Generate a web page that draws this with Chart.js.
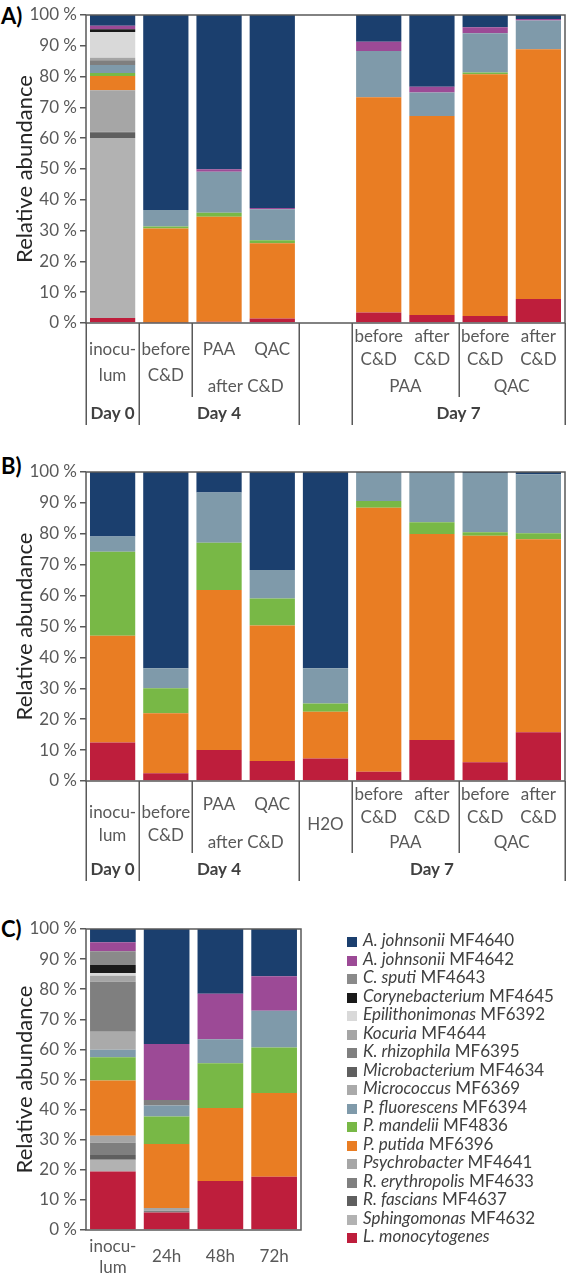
<!DOCTYPE html>
<html>
<head>
<meta charset="utf-8">
<script src="https://cdn.jsdelivr.net/npm/chart.js@4.4.0/dist/chart.umd.min.js"></script>
<style>
  body { margin: 0; background: #fff; width: 567px; height: 1277px; position: relative; overflow: hidden; font-family: Lato, sans-serif; }
  canvas { position: absolute; left: 0; }
  .tag { position: absolute; left: 1px; font: bold 22px Lato, sans-serif; line-height: 24px; color: #000; }
  #legend { position: absolute; left: 347px; top: 931px; font: 17px Lato, sans-serif; color: #404040; }
  #legend div { height: 18.5px; line-height: 18.5px; white-space: nowrap; }
  #legend .box { display: inline-block; width: 10px; height: 10px; margin-right: 6px; vertical-align: -1px; }
</style>
</head>
<body>
<div class="tag" style="top:4px">A)</div>
<div class="tag" style="top:454px">B)</div>
<div class="tag" style="top:917px">C)</div>
<canvas id="chartA" width="567" height="437" style="top:0px"></canvas>
<canvas id="chartB" width="567" height="450" style="top:437px"></canvas>
<canvas id="chartC" width="567" height="390" style="top:887px"></canvas>
<div id="legend"></div>
<script>
// species, in legend order (top of the stack first)
const speciesNames = ['A. johnsonii', 'A. johnsonii', 'C. sputi', 'Corynebacterium', 'Epilithonimonas', 'Kocuria',
  'K. rhizophila', 'Microbacterium', 'Micrococcus', 'P. fluorescens', 'P. mandelii', 'P. putida',
  'Psychrobacter', 'R. erythropolis', 'R. fascians', 'Sphingomonas', 'L. monocytogenes'];
const strainIds = ['MF4640', 'MF4642', 'MF4643', 'MF4645', 'MF6392', 'MF4644', 'MF6395', 'MF4634', 'MF6369',
  'MF6394', 'MF4836', 'MF6396', 'MF4641', 'MF4633', 'MF4637', 'MF4632', ''];
const speciesColors = ['#1b3f6e', '#9c4a96', '#8a8a8a', '#1a1a1a', '#d9d9d9', '#a5a5a5', '#7f7f7f', '#5f5f5f',
  '#aaaaaa', '#7f9aaa', '#78b846', '#e97d23', '#a6a6a6', '#7f7f7f', '#5f5f5f', '#b2b2b2', '#be1e3c'];

// panel A: categories
const catsA = ['inoculum', 'Day 4 before C&D', 'Day 4 PAA', 'Day 4 QAC', 'Day 7 H2O',
  'Day 7 PAA before', 'Day 7 PAA after', 'Day 7 QAC before', 'Day 7 QAC after'];
const labelsA = [['inocu-', 'lum'], ['before', 'C&D'], ['PAA'], ['QAC'], [],
  ['before', 'C&D'], ['after', 'C&D'], ['before', 'C&D'], ['after', 'C&D']];
const groupsA = [['after C&D', 2, 3], ['PAA', 5, 6], ['QAC', 7, 8]];
const daysA = [['Day 0', 0, 0], ['Day 4', 1, 3], ['Day 7', 5, 8]];
// relative abundance (%), one row per species in legend order
const valuesA = [
  [3.5, 63.3, 50.1, 62.7, null, 8.7, 23.3, 4.0, 1.3],
  [1.1, 0, 0.8, 0.4, null, 3.0, 1.9, 1.9, 0.5],
  [0, 0, 0, 0, null, 0, 0, 0, 0],
  [0.9, 0, 0, 0, null, 0, 0, 0, 0],
  [8.4, 0, 0, 0, null, 0, 0, 0, 0],
  [0.8, 0, 0, 0, null, 0, 0, 0, 0],
  [1.5, 0, 0, 0, null, 0, 0, 0, 0],
  [0, 0, 0, 0, null, 0, 0, 0, 0],
  [0, 0, 0, 0, null, 0, 0, 0, 0],
  [2.6, 5.4, 13.3, 10.0, null, 15.0, 7.6, 12.8, 9.3],
  [1.0, 0.6, 1.3, 1.0, null, 0, 0, 0.5, 0],
  [4.6, 30.5, 34.1, 24.4, null, 69.9, 64.6, 78.5, 81.1],
  [13.5, 0, 0, 0, null, 0, 0, 0, 0],
  [0.4, 0, 0, 0, null, 0, 0, 0, 0],
  [1.6, 0, 0, 0, null, 0, 0, 0, 0],
  [58.5, 0, 0, 0, null, 0, 0, 0, 0],
  [1.6, 0.2, 0.4, 1.5, null, 3.4, 2.6, 2.3, 7.8]
];

// panel B
const catsB = catsA;
const labelsB = [['inocu-', 'lum'], ['before', 'C&D'], ['PAA'], ['QAC'], ['H2O'],
  ['before', 'C&D'], ['after', 'C&D'], ['before', 'C&D'], ['after', 'C&D']];
const groupsB = groupsA;
const daysB = [['Day 0', 0, 0], ['Day 4', 1, 3], ['Day 7', 4, 8]];
const valuesB = [
  [20.9, 63.5, 6.6, 31.7, 63.5, 0, 0, 0.3, 0.7],
  [0, 0, 0, 0, 0, 0, 0, 0, 0],
  [0, 0, 0, 0, 0, 0, 0, 0, 0],
  [0, 0, 0, 0, 0, 0, 0, 0, 0],
  [0, 0, 0, 0, 0, 0, 0, 0, 0],
  [0, 0, 0, 0, 0, 0, 0, 0, 0],
  [0, 0, 0, 0, 0, 0, 0, 0, 0],
  [0, 0, 0, 0, 0, 0, 0, 0, 0],
  [0, 0, 0, 0, 0, 0, 0, 0, 0],
  [4.9, 6.5, 16.3, 9.2, 11.4, 9.4, 16.3, 19.2, 19.1],
  [27.2, 8.1, 15.3, 8.8, 2.7, 2.2, 3.8, 1.1, 2.0],
  [34.5, 19.4, 51.8, 43.8, 15.1, 85.4, 66.6, 73.3, 62.4],
  [0, 0, 0, 0, 0, 0, 0, 0, 0],
  [0, 0, 0, 0, 0, 0, 0, 0, 0],
  [0, 0, 0, 0, 0, 0, 0, 0, 0],
  [0, 0, 0, 0, 0, 0, 0, 0, 0],
  [12.5, 2.5, 10.0, 6.5, 7.3, 3.0, 13.3, 6.1, 15.8]
];

// panel C
const catsC = ['inoculum', '24h', '48h', '72h'];
const labelsC = [['inocu-', 'lum'], ['24h'], ['48h'], ['72h']];
const valuesC = [
  [4.4, 38.2, 21.5, 15.7],
  [3.0, 18.6, 15.1, 11.5],
  [4.6, 0, 0, 0],
  [2.6, 0, 0, 0],
  [0.9, 0, 0, 0],
  [2.0, 0, 0, 0],
  [16.6, 1.8, 0, 0],
  [0, 0, 0, 0],
  [6.0, 0, 0, 0],
  [2.5, 3.7, 8.0, 12.2],
  [7.7, 9.1, 14.9, 15.1],
  [18.4, 21.3, 24.2, 27.8],
  [2.3, 0.9, 0, 0],
  [4.1, 0.6, 0, 0],
  [1.6, 0, 0, 0],
  [3.9, 0, 0, 0],
  [19.4, 5.8, 16.3, 17.7]
];

const AXIS = '#595959';
const FONT = 'Lato, sans-serif';

// frame round the plot area + x label tiers under it
function tierPlugin(t) {
  return {
    id: 'tiers',
    afterDatasetsDraw(chart) {
      const { ctx, chartArea: a } = chart;
      ctx.save();
      ctx.strokeStyle = AXIS;
      ctx.lineWidth = 1.5;
      ctx.strokeRect(a.left, a.top, a.right - a.left, a.bottom - a.top);
      ctx.restore();
    },
    afterDraw(chart) {
      const { ctx, chartArea: a } = chart;
      const xs = chart.scales.x;
      ctx.save();
      ctx.strokeStyle = AXIS;
      ctx.lineWidth = 1.5;
      (t.seps || []).forEach(([b, deep]) => {
        const x = Math.round(xs.getPixelForValue(b - 0.5)) + 0.25;
        ctx.beginPath();
        ctx.moveTo(x, a.bottom);
        ctx.lineTo(x, a.bottom + (deep ? t.sepFull : t.sepGroup));
        ctx.stroke();
      });
      ctx.textAlign = 'center';
      ctx.textBaseline = 'middle';
      ctx.fillStyle = AXIS;
      ctx.font = '17px ' + FONT;
      t.labels.forEach((lines, i) => {
        lines.forEach((s, k) => ctx.fillText(s, xs.getPixelForValue(i), a.bottom + t.lines[i][k]));
      });
      (t.groups || []).forEach(([s, from, to]) => {
        const x = (xs.getPixelForValue(from) + xs.getPixelForValue(to)) / 2;
        ctx.fillText(s, x, a.bottom + t.group);
      });
      ctx.font = 'bold 17px ' + FONT;
      ctx.fillStyle = '#404040';
      (t.days || []).forEach(([s, from, to]) => {
        const x = (xs.getPixelForValue(from - 0.5) + xs.getPixelForValue(to + 0.5)) / 2;
        ctx.fillText(s, x, a.bottom + t.day);
      });
      ctx.restore();
    }
  };
}

function buildChart(id, cats, values, pad, xHeight, tiers) {
  const datasets = speciesNames.map((n, i) => ({
    label: (n + ' ' + strainIds[i]).trim(),
    data: values[i],
    backgroundColor: speciesColors[i],
    borderWidth: 0,
    barPercentage: 0.85,
    categoryPercentage: 1
  })).reverse();

  return new Chart(document.getElementById(id), {
    type: 'bar',
    data: { labels: cats, datasets },
    options: {
      responsive: false,
      animation: false,
      devicePixelRatio: 1,
      layout: { padding: { top: pad.top, right: pad.right, left: 0, bottom: 0 } },
      plugins: { legend: { display: false }, tooltip: { enabled: false } },
      scales: {
        x: {
          stacked: true,
          grid: { display: false },
          border: { display: false },
          ticks: { display: false },
          afterFit: (s) => { s.height = xHeight; }
        },
        y: {
          stacked: true,
          min: 0,
          max: 100,
          ticks: {
            stepSize: 10,
            callback: (v) => v + ' %',
            font: { family: FONT, size: 17 },
            color: AXIS,
            padding: 3
          },
          grid: { drawOnChartArea: false, tickLength: 6, color: AXIS, lineWidth: 1.5 },
          border: { display: false },
          title: {
            display: true,
            text: 'Relative abundance',
            font: { family: FONT, size: 22 },
            color: '#262626',
            padding: { top: 12, bottom: 0 }
          },
          afterFit: (s) => { s.width = 86; }
        }
      }
    },
    plugins: [tierPlugin(tiers)]
  });
}

buildChart('chartA', catsA, valuesA, { top: 15, right: 2 }, 114, {
  labels: labelsA, groups: groupsA, days: daysA,
  lines: [[27, 53], [27, 53], [27], [27], [], [14, 37], [14, 37], [14, 37], [14, 37]],
  group: 64, day: 91, sepGroup: 74, sepFull: 102,
  seps: [[0, true], [1, true], [2, false], [4, true], [5, true], [7, false], [9, true]]
});

buildChart('chartB', catsB, valuesB, { top: 35, right: 2 }, 106, {
  labels: labelsB, groups: groupsB, days: daysB,
  lines: [[32, 55], [32, 55], [24], [24], [44], [14, 37], [14, 37], [14, 37], [14, 37]],
  group: 62, day: 89, sepGroup: 72, sepFull: 100,
  seps: [[0, true], [1, true], [2, false], [4, true], [5, false], [7, false], [9, true]]
});

buildChart('chartC', catsC, valuesC, { top: 42, right: 266 }, 47, {
  labels: labelsC,
  lines: [[17, 38], [27], [27], [27]]
});

// legend for all panels, next to panel C
const legend = document.getElementById('legend');
speciesNames.forEach((n, i) => {
  const row = document.createElement('div');
  row.innerHTML = '<span class="box" style="background:' + speciesColors[i] + '"></span><i>' + n + '</i>' +
    (strainIds[i] ? ' ' + strainIds[i] : '');
  legend.appendChild(row);
});
</script>
</body>
</html>
